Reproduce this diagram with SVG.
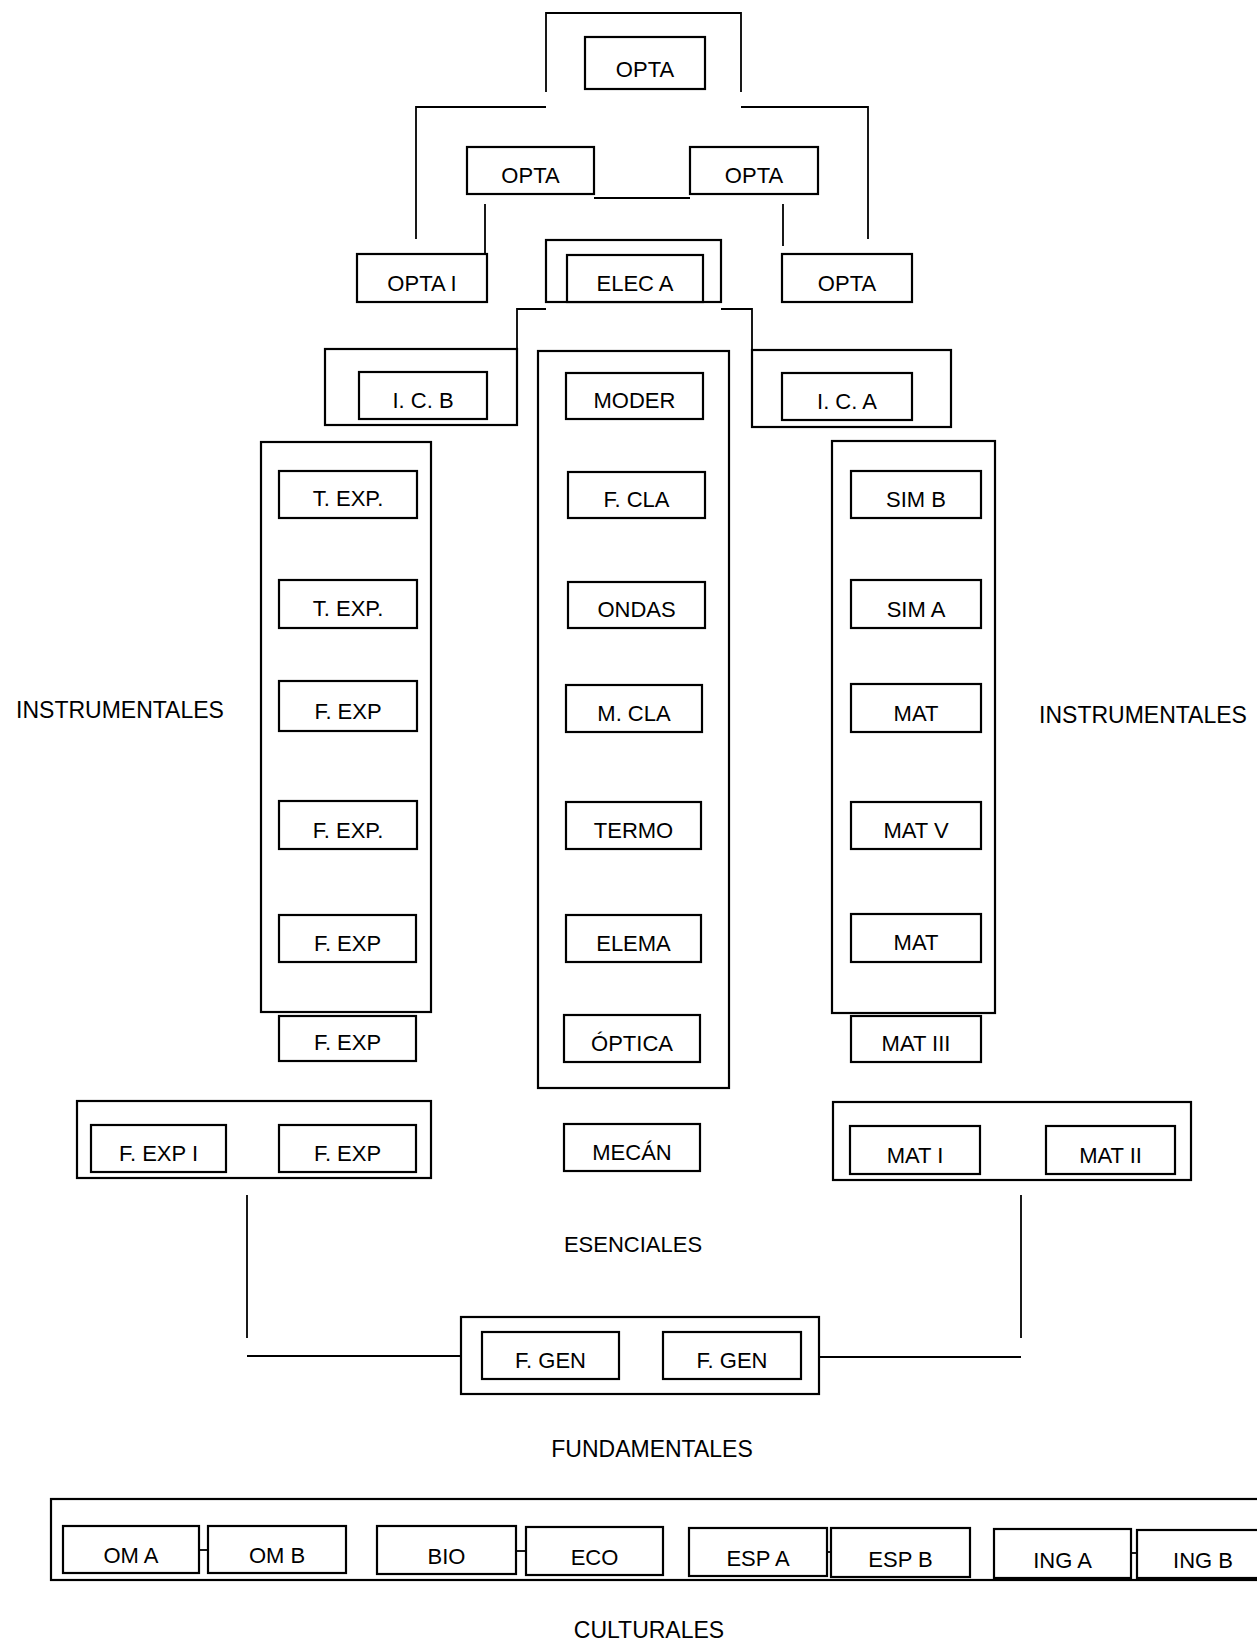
<svg xmlns="http://www.w3.org/2000/svg" width="1257" height="1644" viewBox="0 0 1257 1644">
<style>
.bx{fill:#fff;stroke:#000;stroke-width:2.2}
.ct{fill:none;stroke:#000;stroke-width:2.2}
.ln{fill:none;stroke:#000;stroke-width:1.8}
text{font-family:"Liberation Sans",Arial,sans-serif;fill:#000}
.l{font-size:22px;text-anchor:middle}
.c{font-size:23px;text-anchor:middle}
</style>
<rect width="1257" height="1644" fill="#fff"/>

<g id="connectors">
<polyline class="ln" points="546,92 546,13 741,13 741,92"/>
<polyline class="ln" points="546,107 416,107 416,239"/>
<polyline class="ln" points="741,107 868,107 868,239"/>
<line class="ln" x1="594" y1="198" x2="690" y2="198"/>
<line class="ln" x1="485" y1="204" x2="485" y2="254"/>
<line class="ln" x1="783" y1="204" x2="783" y2="246"/>
<polyline class="ln" points="546,309 517,309 517,349"/>
<polyline class="ln" points="721,309 752,309 752,350"/>
<line class="ln" x1="247" y1="1195" x2="247" y2="1338"/>
<line class="ln" x1="247" y1="1356" x2="461" y2="1356"/>
<line class="ln" x1="1021" y1="1195" x2="1021" y2="1338"/>
<line class="ln" x1="819" y1="1357" x2="1021" y2="1357"/>
<line class="ln" x1="199" y1="1550" x2="208" y2="1550"/>
<line class="ln" x1="516" y1="1551" x2="526" y2="1551"/>
<line class="ln" x1="827" y1="1552" x2="831" y2="1552"/>
<line class="ln" x1="1131" y1="1553" x2="1137" y2="1553"/>
</g>

<g id="containers">
<rect class="ct" x="546" y="240" width="175" height="62"/>
<rect class="ct" x="325" y="349" width="192" height="76"/>
<rect class="ct" x="752" y="350" width="199" height="77"/>
<rect class="ct" x="538" y="351" width="191" height="737"/>
<rect class="ct" x="261" y="442" width="170" height="570"/>
<rect class="ct" x="832" y="441" width="163" height="572"/>
<rect class="ct" x="77" y="1101" width="354" height="77"/>
<rect class="ct" x="833" y="1102" width="358" height="78"/>
<rect class="ct" x="461" y="1317" width="358" height="77"/>
<rect class="ct" x="51" y="1499" width="1214" height="81"/>
</g>

<g id="n-opta-top"><rect class="bx" x="585" y="37" width="120" height="52"/><text class="l" x="645" y="77">OPTA</text></g>
<g id="n-opta-ml"><rect class="bx" x="467" y="147" width="127" height="47"/><text class="l" x="530.5" y="183">OPTA</text></g>
<g id="n-opta-mr"><rect class="bx" x="690" y="147" width="128" height="47"/><text class="l" x="754" y="183">OPTA</text></g>
<g id="n-opta-i"><rect class="bx" x="357" y="254" width="130" height="48"/><text class="l" x="422" y="291">OPTA I</text></g>
<g id="n-elec-a"><rect class="bx" x="567" y="255" width="136" height="47"/><text class="l" x="635" y="291">ELEC A</text></g>
<g id="n-opta-r"><rect class="bx" x="782" y="254" width="130" height="48"/><text class="l" x="847" y="291">OPTA</text></g>

<g id="n-icb"><rect class="bx" x="359" y="372" width="128" height="47"/><text class="l" x="423" y="408">I. C. B</text></g>
<g id="n-ica"><rect class="bx" x="782" y="373" width="130" height="47"/><text class="l" x="847" y="409">I. C. A</text></g>

<g id="n-moder"><rect class="bx" x="566" y="373" width="137" height="46"/><text class="l" x="634.5" y="408">MODER</text></g>
<g id="n-fcla"><rect class="bx" x="568" y="472" width="137" height="46"/><text class="l" x="636.5" y="507">F. CLA</text></g>
<g id="n-ondas"><rect class="bx" x="568" y="582" width="137" height="46"/><text class="l" x="636.5" y="617">ONDAS</text></g>
<g id="n-mcla"><rect class="bx" x="566" y="685" width="136" height="47"/><text class="l" x="634" y="721">M. CLA</text></g>
<g id="n-termo"><rect class="bx" x="566" y="802" width="135" height="47"/><text class="l" x="633.5" y="838">TERMO</text></g>
<g id="n-elema"><rect class="bx" x="566" y="915" width="135" height="47"/><text class="l" x="633.5" y="951">ELEMA</text></g>
<g id="n-optica"><rect class="bx" x="564" y="1015" width="136" height="47"/><text class="l" x="632" y="1051">ÓPTICA</text></g>
<g id="n-mecan"><rect class="bx" x="564" y="1124" width="136" height="47"/><text class="l" x="632" y="1160">MECÁN</text></g>

<g id="n-texp1"><rect class="bx" x="279" y="471" width="138" height="47"/><text class="l" x="348" y="506">T. EXP.</text></g>
<g id="n-texp2"><rect class="bx" x="279" y="580" width="138" height="48"/><text class="l" x="348" y="616">T. EXP.</text></g>
<g id="n-fexp1"><rect class="bx" x="279" y="681" width="138" height="50"/><text class="l" x="348" y="719">F. EXP</text></g>
<g id="n-fexp2"><rect class="bx" x="279" y="801" width="138" height="48"/><text class="l" x="348" y="838">F. EXP.</text></g>
<g id="n-fexp3"><rect class="bx" x="279" y="915" width="137" height="47"/><text class="l" x="347.5" y="951">F. EXP</text></g>
<g id="n-fexp4"><rect class="bx" x="279" y="1016" width="137" height="45"/><text class="l" x="347.5" y="1050">F. EXP</text></g>

<g id="n-simb"><rect class="bx" x="851" y="471" width="130" height="47"/><text class="l" x="916" y="507">SIM B</text></g>
<g id="n-sima"><rect class="bx" x="851" y="580" width="130" height="48"/><text class="l" x="916" y="617">SIM A</text></g>
<g id="n-mat1"><rect class="bx" x="851" y="684" width="130" height="48"/><text class="l" x="916" y="721">MAT</text></g>
<g id="n-matv"><rect class="bx" x="851" y="802" width="130" height="47"/><text class="l" x="916" y="838">MAT V</text></g>
<g id="n-mat2"><rect class="bx" x="851" y="914" width="130" height="48"/><text class="l" x="916" y="950">MAT</text></g>
<g id="n-matiii"><rect class="bx" x="851" y="1016" width="130" height="46"/><text class="l" x="916" y="1051">MAT III</text></g>

<g id="n-fexpi"><rect class="bx" x="91" y="1125" width="135" height="47"/><text class="l" x="158.5" y="1161">F. EXP I</text></g>
<g id="n-fexp5"><rect class="bx" x="279" y="1125" width="137" height="47"/><text class="l" x="347.5" y="1161">F. EXP</text></g>
<g id="n-mati"><rect class="bx" x="850" y="1126" width="130" height="48"/><text class="l" x="915" y="1163">MAT I</text></g>
<g id="n-matii"><rect class="bx" x="1046" y="1126" width="129" height="48"/><text class="l" x="1110.5" y="1163">MAT II</text></g>

<g id="n-fgen1"><rect class="bx" x="482" y="1332" width="137" height="47"/><text class="l" x="550.5" y="1368">F. GEN</text></g>
<g id="n-fgen2"><rect class="bx" x="663" y="1332" width="138" height="47"/><text class="l" x="732" y="1368">F. GEN</text></g>

<g id="n-oma"><rect class="bx" x="63" y="1526" width="136" height="47"/><text class="l" x="131" y="1563">OM A</text></g>
<g id="n-omb"><rect class="bx" x="208" y="1526" width="138" height="47"/><text class="l" x="277" y="1563">OM B</text></g>
<g id="n-bio"><rect class="bx" x="377" y="1526" width="139" height="48"/><text class="l" x="446.5" y="1564">BIO</text></g>
<g id="n-eco"><rect class="bx" x="526" y="1527" width="137" height="48"/><text class="l" x="594.5" y="1565">ECO</text></g>
<g id="n-espa"><rect class="bx" x="689" y="1528" width="138" height="48"/><text class="l" x="758" y="1566">ESP A</text></g>
<g id="n-espb"><rect class="bx" x="831" y="1528" width="139" height="49"/><text class="l" x="900.5" y="1567">ESP B</text></g>
<g id="n-inga"><rect class="bx" x="994" y="1529" width="137" height="49"/><text class="l" x="1062.5" y="1568">ING A</text></g>
<g id="n-ingb"><rect class="bx" x="1137" y="1530" width="133" height="48"/><text class="l" x="1203" y="1568">ING B</text></g>

<g id="labels">
<text class="c" x="120" y="718">INSTRUMENTALES</text>
<text class="c" x="1143" y="723">INSTRUMENTALES</text>
<text class="l" x="633" y="1252">ESENCIALES</text>
<text class="c" x="652" y="1457">FUNDAMENTALES</text>
<text class="c" x="649" y="1638">CULTURALES</text>
</g>
</svg>
